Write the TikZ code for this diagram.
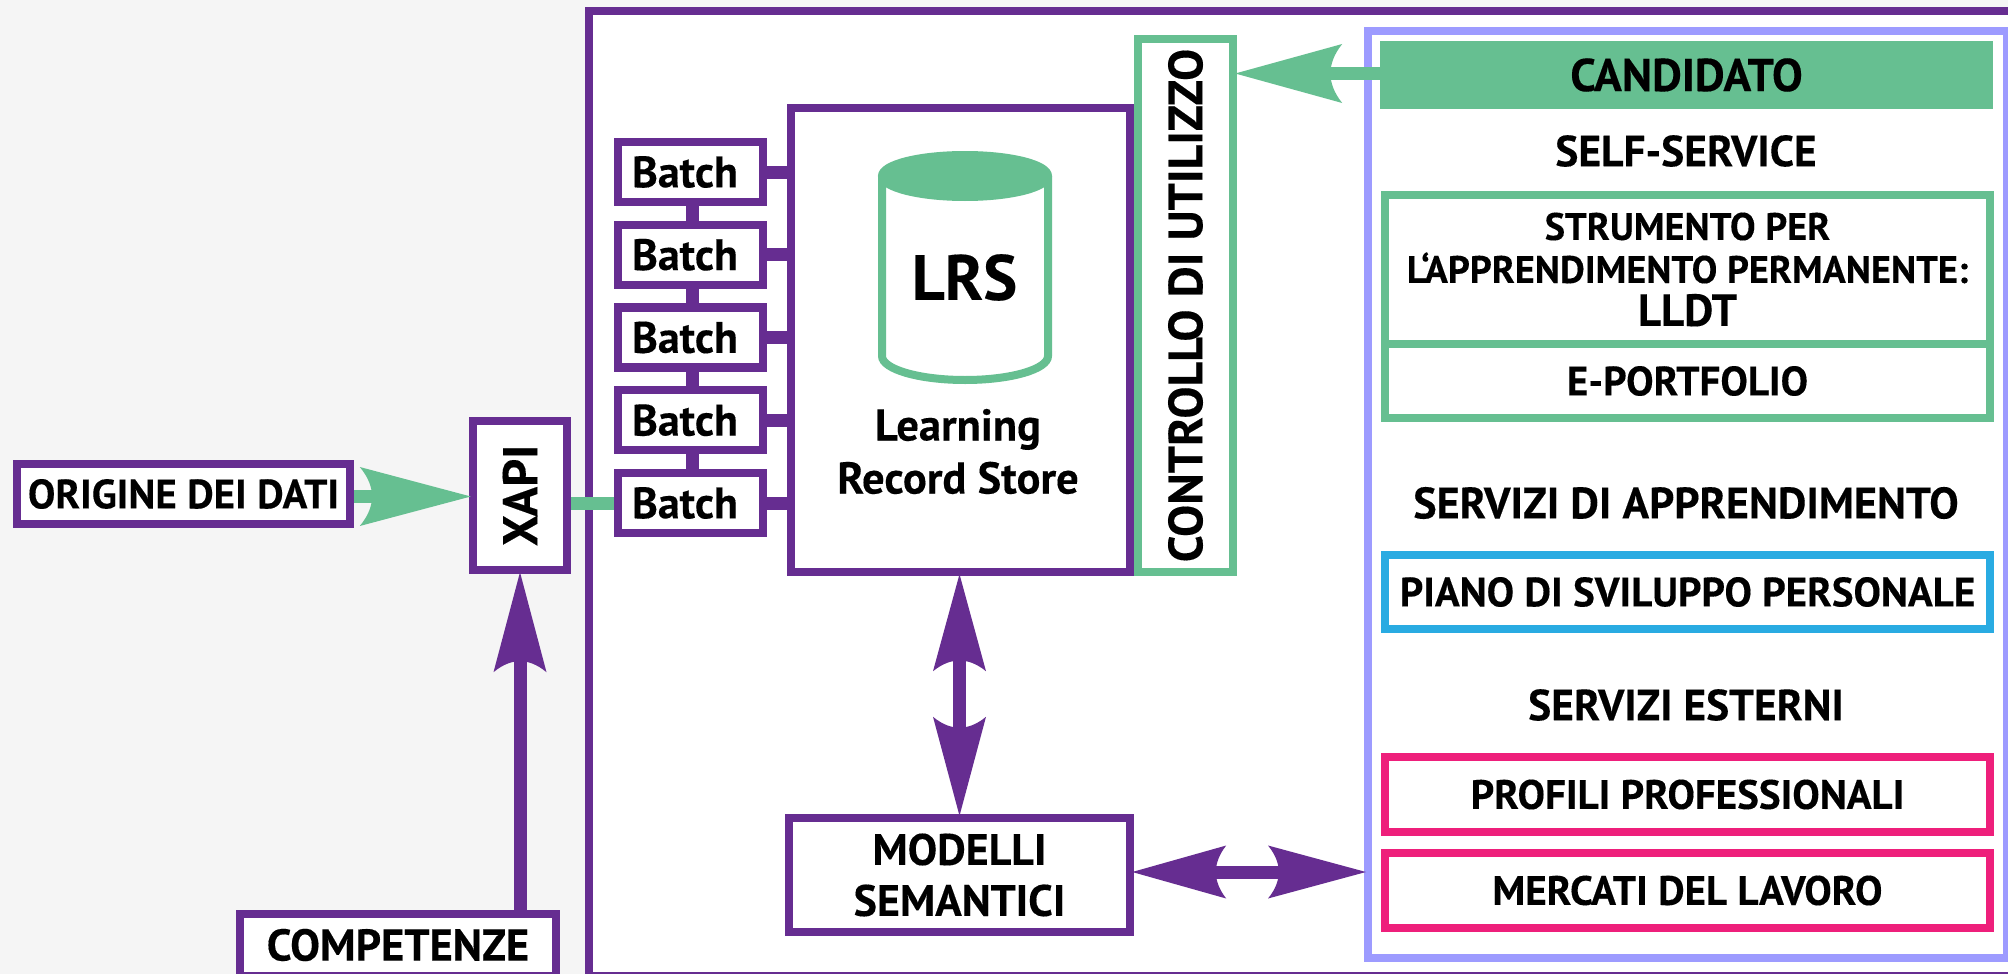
\documentclass[tikz,border=0pt]{standalone}
\usepackage{fontspec}
\usepackage{tikz}
\usetikzlibrary{arrows.meta, calc, matrix}
\setmainfont{PT Sans}[BoldFont={PT Sans Bold}, BoldFeatures={FakeBold=0.25}]
\definecolor{viola}{HTML}{662D91}
\definecolor{verde}{HTML}{66BF91}
\definecolor{lilla}{HTML}{9D9BFF}
\definecolor{azzurro}{HTML}{29ABE2}
\definecolor{rosa}{HTML}{EE1F7B}
\definecolor{sfondo}{HTML}{F5F5F5}
% arrow head with a curved back
\pgfdeclarearrow{
    name=Freccia,
    parameters={\the\pgfarrowlength,\the\pgfarrowwidth},
    setup code={
        \pgfarrowssettipend{0pt}
        \pgfarrowssetbackend{-\pgfarrowlength}
        \pgfarrowssetlineend{-.85\pgfarrowlength}
        \pgfarrowssavethe\pgfarrowlength
        \pgfarrowssavethe\pgfarrowwidth
    },
    drawing code={
        \pgfpathmoveto{\pgfqpoint{0pt}{0pt}}
        \pgfpathlineto{\pgfqpoint{-\pgfarrowlength}{.5\pgfarrowwidth}}
        \pgfpathcurveto{\pgfqpoint{-.92\pgfarrowlength}{.32\pgfarrowwidth}}{\pgfqpoint{-.89\pgfarrowlength}{.15\pgfarrowwidth}}{\pgfqpoint{-.89\pgfarrowlength}{0pt}}
        \pgfpathcurveto{\pgfqpoint{-.89\pgfarrowlength}{-.15\pgfarrowwidth}}{\pgfqpoint{-.92\pgfarrowlength}{-.32\pgfarrowwidth}}{\pgfqpoint{-\pgfarrowlength}{-.5\pgfarrowwidth}}
        \pgfpathclose
        \pgfusepathqfill
    },
    defaults={length=98pt, width=51pt}
}

\begin{document}
\begin{tikzpicture}[x=1pt, y=-1pt,
        box/.style={draw=viola, line width=8.4pt, fill=white, inner sep=0pt, align=center, font=\bfseries\fontsize{41}{48}\selectfont},
        greenbox/.style={box, draw=verde},
        bluebox/.style={box, draw=azzurro},
        pinkbox/.style={box, draw=rosa},
        label/.style={inner sep=0pt, align=center, font=\bfseries\fontsize{43.5}{48}\selectfont},
        link/.style={line width=13pt},
        greenarrow/.style={link, draw=verde, shorten >=-2pt, -{Freccia[length=111pt, width=59pt]}},
        violetarrow/.style={link, draw=viola, shorten >=-2pt, -{Freccia[length=100pt, width=53pt]}},
        twoway/.style={link, draw=viola, shorten >=-2pt, shorten <=-2pt, {Freccia[length=97pt, width=53pt]}-{Freccia[length=99pt, width=53pt]}}]
    \useasboundingbox (0,0) rectangle (2008,974);
    \clip (0,0) rectangle (2008,974);
    \fill[sfondo] (0,0) rectangle (2008,974);
    \node[draw=viola, line width=8pt, fill=white, inner sep=0pt, minimum width=1471pt, minimum height=965pt] (piattaforma) at (1324.5,493.5) {};
    \node[draw=lilla, line width=8pt, fill=white, inner sep=0pt, minimum width=639pt, minimum height=926.5pt] (servizi) at (1687.5,494.25) {};

    \node[box, minimum width=333pt, minimum height=60pt] (origine) at (183.5,494) {ORIGINE DEI DATI};
    \node[box, minimum width=94pt, minimum height=149pt, font=\bfseries\fontsize{49}{49}\selectfont] (xapi) at (520,495.5) {\rotatebox{90}{XAPI}};
    \node[box, minimum width=316pt, minimum height=62pt, font=\bfseries\fontsize{44.5}{48}\selectfont] (competenze) at (398,945) {COMPETENZE};

    \matrix[matrix of nodes, nodes={box, font=\bfseries\fontsize{44}{48}\selectfont, minimum width=145pt, minimum height=60pt}, row sep=14.35pt] (batches) at (690.5,337.5) {%
        Batch \\
        Batch \\
        Batch \\
        Batch \\
        Batch \\
    };

    \node[box, minimum width=339pt, minimum height=464pt] (lrs) at (960.5,340) {};
    % database drum
    \draw[verde, line width=8pt, fill=white] (882,176) -- (882,356) arc[start angle=180, end angle=0, x radius=83, y radius=24] -- (1048,176);
    \draw[verde, line width=8pt, fill=verde] (965,176) ellipse [x radius=83, y radius=21];
    \node[inner sep=0pt, font=\bfseries\fontsize{64}{64}\selectfont] (archivio) at (964.5,277.5) {LRS};
    \node[label, font=\bfseries\fontsize{44.5}{53}\selectfont] (lrsnome) at (958,451.5) {Learning\\Record Store};

    \node[greenbox, minimum width=95pt, minimum height=533pt, font=\bfseries\fontsize{48}{48}\selectfont] (controllo) at (1185.5,305.5) {\rotatebox{90}{CONTROLLO DI UTILIZZO}};
    \node[box, minimum width=341pt, minimum height=114pt, font=\bfseries\fontsize{44}{51}\selectfont] (modelli) at (959.5,875) {MODELLI\\SEMANTICI};

    \node[fill=verde, minimum width=613pt, minimum height=68pt, inner sep=0pt, font=\bfseries\fontsize{46}{48}\selectfont] (candidato) at (1686.5,75) {CANDIDATO};
    \node[label] (selfservice) at (1686,151) {SELF-SERVICE};
    \node[greenbox, minimum width=605pt, minimum height=149pt, font=\bfseries\fontsize{38.3}{43}\selectfont] (strumento) at (1687.5,269.5) {STRUMENTO PER\\L‘APPRENDIMENTO PERMANENTE:\\{\fontsize{45}{43}\selectfont LLDT}};
    \node[greenbox, minimum width=605pt, minimum height=74pt] (portfolio) at (1687.5,381) {E-PORTFOLIO};
    \node[label, font=\bfseries\fontsize{44}{48}\selectfont] (apprendimento) at (1686,503) {SERVIZI DI APPRENDIMENTO};
    \node[bluebox, minimum width=605pt, minimum height=74pt] (piano) at (1687.5,592) {PIANO DI SVILUPPO PERSONALE};
    \node[label] (esterni) at (1686,705) {SERVIZI ESTERNI};
    \node[pinkbox, minimum width=605pt, minimum height=75pt] (profili) at (1687.5,794.5) {PROFILI PROFESSIONALI};
    \node[pinkbox, minimum width=605pt, minimum height=75pt] (mercati) at (1687.5,890.5) {MERCATI DEL LAVORO};

    % batches stack
    \foreach \i [evaluate=\i as \j using int(\i+1)] in {1,2,3,4}
        \draw[viola, line width=13pt] ([xshift=2pt]batches-\i-1.south) -- ([xshift=2pt]batches-\j-1.north);
    \foreach \i in {1,...,5}
        \draw[viola, line width=13pt] (batches-\i-1.east) -- (batches-\i-1.east -| lrs.west);

    \draw[link, draw=verde] (xapi.east |- batches-5-1.west) -- (batches-5-1.west);
    \draw[greenarrow] ([yshift=-2.5pt]origine.east) -- ([yshift=-2.5pt]origine.east -| xapi.west);
    \draw[violetarrow] (xapi.south |- competenze.north) -- (xapi.south);
    \draw[greenarrow, -{Freccia[length=107pt, width=59pt]}] ([yshift=1.5pt]candidato.west) -- ([yshift=1.5pt]candidato.west -| controllo.east);
    \draw[twoway] (modelli.north |- lrs.south) -- (modelli.north);
    \draw[twoway, {Freccia[length=94pt, width=53pt]}-{Freccia[length=98pt, width=53pt]}] ([yshift=3pt]modelli.east) -- ([yshift=3pt]modelli.east -| servizi.west);
\end{tikzpicture}
\end{document}
